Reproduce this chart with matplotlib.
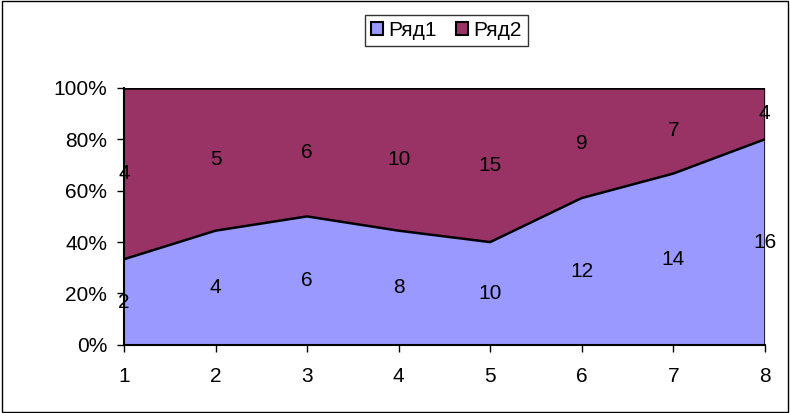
import numpy as np
import matplotlib.pyplot as plt
from matplotlib.patches import Rectangle, Patch

categories = [1, 2, 3, 4, 5, 6, 7, 8]
series1 = [2, 4, 6, 8, 10, 12, 14, 16]
series2 = [4, 5, 6, 10, 15, 9, 7, 4]
names = ['Ряд1', 'Ряд2']
colors = ['#9999FF', '#993366']

plt.rcParams['font.family'] = ['Liberation Sans', 'DejaVu Sans']
fs = 15

s1 = np.array(series1, dtype=float)
s2 = np.array(series2, dtype=float)
tot = s1 + s2
p1 = s1 / tot * 100
p2 = s2 / tot * 100

fig = plt.figure(figsize=(7.9, 4.13), dpi=100)
fig.patches.append(Rectangle((0.002, 0.003), 0.995, 0.994, transform=fig.transFigure,
                             fill=False, edgecolor='black', linewidth=1))
ax = fig.add_axes([0.157, 0.165, 0.811, 0.622])

x = np.array(categories)
ax.fill_between(x, 0, p1, color=colors[0], linewidth=0)
ax.fill_between(x, p1, 100, color=colors[1], linewidth=0)
ax.plot(x, p1, color='black', linewidth=1.8)
ax.plot(x, np.full_like(p1, 100), color='black', linewidth=1.8)
ax.plot([x[-1], x[-1]], [0, 100], color='black', linewidth=1.8)

# data labels in the middle of each band
for i in range(len(x)):
    ax.text(x[i], p1[i] / 2, str(series1[i]), ha='center', va='center', fontsize=fs)
    ax.text(x[i], p1[i] + p2[i] / 2, str(series2[i]), ha='center', va='center', fontsize=fs)

ax.set_xlim(1, 8)
ax.set_ylim(0, 100)
ax.set_xticks(categories)
ax.set_yticks([0, 20, 40, 60, 80, 100])
ax.set_yticklabels(['0%', '20%', '40%', '60%', '80%', '100%'])
ax.tick_params(labelsize=fs, direction='out', length=5, width=1)
ax.tick_params(axis='x', pad=11)
ax.tick_params(axis='y', pad=7)
for s in ['top', 'right']:
    ax.spines[s].set_visible(False)
for s in ['left', 'bottom']:
    ax.spines[s].set_linewidth(1.5)

handles = [Patch(facecolor=c, edgecolor='black', linewidth=1.5) for c in colors]
leg = fig.legend(handles, names, loc='center', bbox_to_anchor=(0.565, 0.926), ncol=2,
                 fontsize=fs, frameon=True, fancybox=False, edgecolor='black',
                 handlelength=0.6, handleheight=0.6, handletextpad=0.25,
                 columnspacing=0.9, borderpad=0.3, borderaxespad=0)
leg.get_frame().set_linewidth(1)

fig.savefig('out.png', dpi=100)
